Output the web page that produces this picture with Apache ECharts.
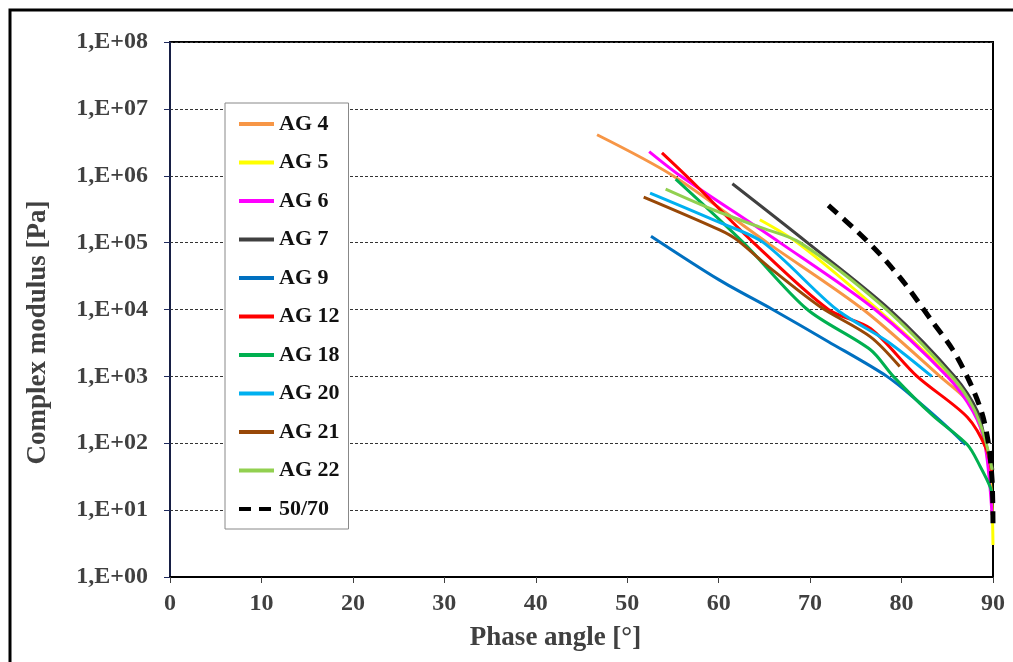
<!DOCTYPE html>
<html lang="en">
<head>
    <meta charset="UTF-8">
    <title>Complex modulus vs phase angle</title>
    <script src="https://cdn.jsdelivr.net/npm/echarts@6/dist/echarts.min.js"></script>
    <style>
        html, body { margin: 0; padding: 0; background: #fff; }
        #chart { width: 1013px; height: 662px; }
    </style>
</head>
<body>
<div id="chart"></div>
<script>
    // [phase angle (deg), complex modulus (Pa)]
    var ag4  = [[46.7, 4.1e6], [55.0, 1e6], [65.3, 1e5], [75.8, 1e4], [84.2, 1e3], [87.8, 350], [89.1, 100], [89.8, 30]];
    var ag5  = [[64.5, 2.2e5], [68.6, 1e5], [77.4, 1e4], [85.3, 1e3], [87.9, 300], [89.1, 100], [89.8, 20], [90, 3]];
    var ag6  = [[52.4, 2.3e6], [55.8, 1e6], [66.7, 1e5], [77.1, 1e4], [85.0, 1e3], [87.8, 300], [89.1, 100], [89.9, 8.5]];
    var ag7  = [[61.5, 7.6e5], [69.7, 1e5], [78.7, 1e4], [85.8, 1e3], [88.3, 300], [89.2, 100], [90, 40]];
    var ag9  = [[52.6, 1.25e5], [60.1, 2.75e4], [65.9, 1e4], [72.0, 3.3e3], [78.4, 1e3], [82.0, 400], [85.3, 160], [87.0, 95]];
    var ag12 = [[53.8, 2.2e6], [56.9, 8.7e5], [63.8, 1e5], [72.0, 1e4], [76.6, 5.2e3], [81.7, 1e3], [87.2, 245], [89.3, 80], [89.9, 32]];
    var ag18 = [[55.3, 8.9e5], [62.7, 1e5], [69.7, 1e4], [76.6, 2.5e3], [79.1, 1e3], [83.4, 260], [87.2, 95], [88.6, 45], [89.7, 22], [90, 14]];
    var ag20 = [[52.5, 5.5e5], [60.1, 2e5], [64.9, 1e5], [72.9, 1e4], [78.5, 3.3e3], [83.3, 1e3]];
    var ag21 = [[51.8, 4.8e5], [60.1, 1.55e5], [62.0, 1.1e5], [65.6, 4.2e4], [71.1, 1.1e4], [76.6, 3.9e3], [79.8, 1.4e3]];
    var ag22 = [[54.2, 6.3e5], [59.4, 3.1e5], [64.5, 1.7e5], [68.9, 1e5], [78.0, 1.1e4], [85.5, 1e3], [87.8, 350], [89.1, 120], [89.9, 40]];
    var bit5070 = [[72.0, 3.6e5], [75.2, 1.45e5], [77.6, 6.8e4], [80.4, 2.4e4], [83.1, 7.4e3], [85.6, 2.5e3], [87.5, 800], [88.8, 280], [89.5, 100], [89.9, 28], [90, 6]];

    var names  = ['AG 4', 'AG 5', 'AG 6', 'AG 7', 'AG 9', 'AG 12', 'AG 18', 'AG 20', 'AG 21', 'AG 22', '50/70'];
    var values = [ag4, ag5, ag6, ag7, ag9, ag12, ag18, ag20, ag21, ag22, bit5070];
    var colors = ['#F79646', '#FFFF00', '#FF00FF', '#404040', '#0070C0', '#FF0000', '#00B050', '#00B0F0', '#984807', '#92D050', '#000000'];

    var font = 'Liberation Serif';

    var series = names.map(function (n, i) {
        var dashed = n === '50/70';
        return {
            name: n,
            type: 'line',
            data: values[i],
            symbol: 'none',
            smooth: 0.3,
            color: colors[i],
            lineStyle: {
                color: colors[i],
                width: dashed ? 5 : 3,
                type: dashed ? [12, 8] : 'solid'
            }
        };
    });

    var chart = echarts.init(document.getElementById('chart'));
    chart.setOption({
        animation: false,
        backgroundColor: '#fff',
        graphic: [{
            type: 'rect',
            shape: { x: 10, y: 10, width: 1010, height: 700 },
            style: { fill: 'none', stroke: '#000', lineWidth: 3 },
            silent: true
        }],
        grid: {
            left: 170, right: 20, top: 42, bottom: 85,
            show: true, borderColor: '#000', borderWidth: 2
        },
        legend: {
            data: names,
            orient: 'vertical',
            left: 225, top: 103,
            itemWidth: 35, itemHeight: 20, itemGap: 16.5,
            padding: [10, 9, 9, 12],
            backgroundColor: '#fff',
            borderColor: '#888', borderWidth: 1,
            itemStyle: { opacity: 0 },
            lineStyle: { width: 4 },
            textStyle: { fontFamily: font, fontWeight: 'bold', fontSize: 22, color: '#111' }
        },
        xAxis: {
            type: 'value', min: 0, max: 90, interval: 10,
            name: 'Phase angle [°]', nameLocation: 'middle', nameGap: 48,
            nameTextStyle: { fontFamily: font, fontWeight: 'bold', fontSize: 27, color: '#404040', padding: [0, 52, 0, 0] },
            axisLine: { lineStyle: { color: '#000', width: 2 } },
            axisTick: { length: 6, lineStyle: { color: '#404040' } },
            axisLabel: { fontFamily: font, fontWeight: 'bold', fontSize: 24, color: '#404040', margin: 15 },
            splitLine: { show: false }
        },
        yAxis: {
            type: 'log', logBase: 10, min: 1, max: 1e8,
            name: 'Complex modulus [Pa]', nameLocation: 'middle', nameGap: 118,
            nameTextStyle: { fontFamily: font, fontWeight: 'bold', fontSize: 27, color: '#404040', padding: [0, 46, 0, 0] },
            axisLine: { lineStyle: { color: '#1F2A5C', width: 1.5 } },
            axisTick: { length: 6, lineStyle: { color: '#1F2A5C' } },
            axisLabel: {
                fontFamily: font, fontWeight: 'bold', fontSize: 24, color: '#404040', margin: 22,
                formatter: function (v) {
                    var e = Math.round(Math.log10(v));
                    return '1,E+' + (e < 10 ? '0' : '') + e;
                }
            },
            splitLine: { show: true, lineStyle: { color: '#333', width: 1, type: [3, 2] } }
        },
        series: series
    });
</script>
</body>
</html>
